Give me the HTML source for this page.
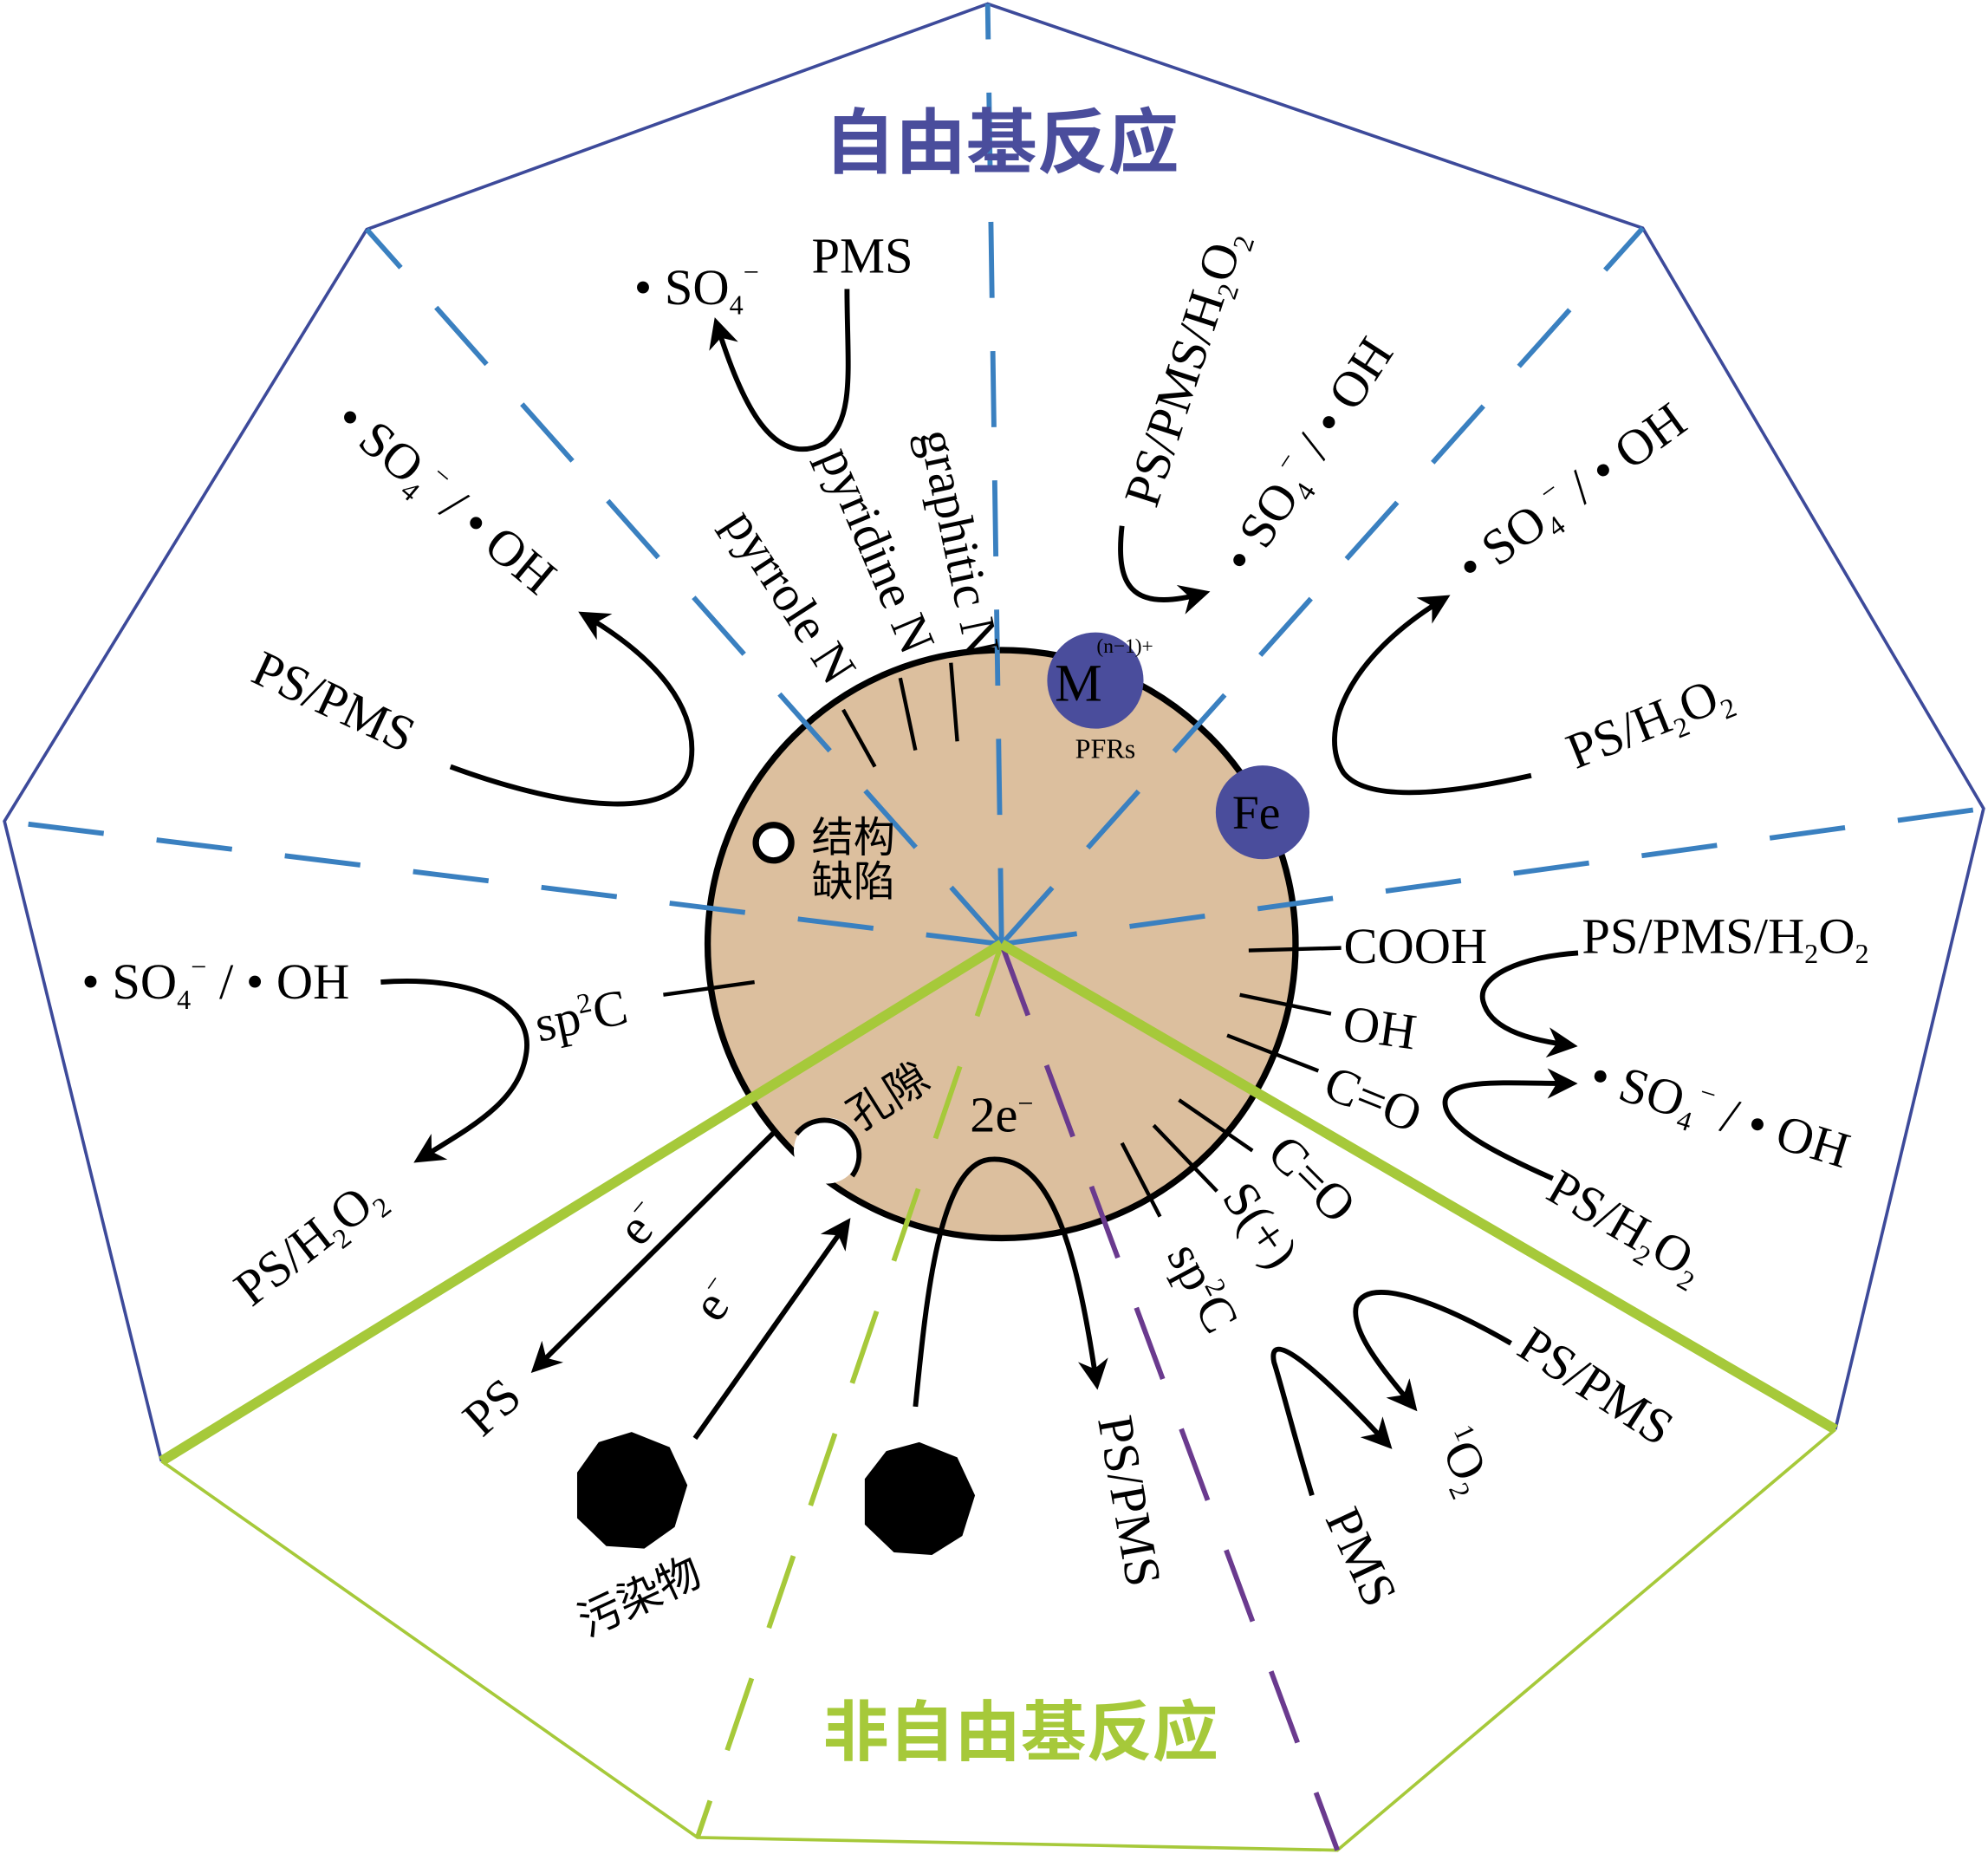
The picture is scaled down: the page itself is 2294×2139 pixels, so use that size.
<!DOCTYPE html>
<html><head><meta charset="utf-8">
<style>
html,body{margin:0;padding:0;background:#fff;}
svg{display:block;}
text{font-family:"Liberation Serif","Noto Serif CJK SC",serif;fill:#000;}
.cjk{font-family:"Liberation Sans","Noto Sans CJK SC",sans-serif;}
</style></head><body>
<svg width="2294" height="2139" viewBox="0 0 1568 1463" xmlns="http://www.w3.org/2000/svg">
<defs>
<marker id="ah" viewBox="0 0 10 10" refX="8" refY="5" markerWidth="6" markerHeight="6" orient="auto" markerUnits="strokeWidth">
<path d="M0,0 L10,5 L0,10 L3,5 z" fill="#000"/></marker>
</defs>
<polyline points="127,1153 3,648 289,181 779,3 1296,180 1565,638 1448,1128" fill="none" stroke="#3d4a9a" stroke-width="2.5"/>
<polyline points="1448,1128 1055,1460 550,1450 127,1153" fill="none" stroke="#a6c93a" stroke-width="2.5"/>

<circle cx="790" cy="745" r="232" fill="#dcbf9e" stroke="#000" stroke-width="5"/>

<g stroke="#3a80c0" stroke-width="4" stroke-dasharray="60,42" fill="none">
<line x1="790" y1="745" x2="779" y2="3"/>
<line x1="790" y1="745" x2="1296" y2="180"/>
<line x1="790" y1="745" x2="1565" y2="638"/>
<line x1="790" y1="745" x2="3" y2="648"/>
<line x1="790" y1="745" x2="289" y2="181"/>
</g>
<line x1="790" y1="745" x2="550" y2="1450" stroke="#a6c93a" stroke-width="4" stroke-dasharray="60,42"/>
<line x1="790" y1="745" x2="1055" y2="1460" stroke="#6a3a8e" stroke-width="4" stroke-dasharray="60,42"/>
<line x1="790" y1="745" x2="127" y2="1153" stroke="#a6c93a" stroke-width="8"/>
<line x1="790" y1="745" x2="1448" y2="1128" stroke="#a6c93a" stroke-width="8"/>

<g stroke="#000" stroke-width="3">
<line x1="665" y1="560" x2="690" y2="605"/>
<line x1="710" y1="535" x2="722" y2="592"/>
<line x1="750" y1="523" x2="755" y2="585"/>
<line x1="985" y1="750" x2="1058" y2="748"/>
<line x1="978" y1="785" x2="1050" y2="800"/>
<line x1="968" y1="817" x2="1040" y2="845"/>
<line x1="930" y1="868" x2="988" y2="908"/>
<line x1="910" y1="888" x2="960" y2="940"/>
<line x1="885" y1="902" x2="915" y2="960"/>
<line x1="523" y1="785" x2="595" y2="775"/>
</g>

<!-- pore notch -->
<circle cx="652" cy="908" r="26" fill="#fff"/>
<path d="M628,895 A26,26 0 1 1 672,928" fill="none" stroke="#000" stroke-width="4"/>
<circle cx="610" cy="665" r="14" fill="#fff" stroke="#000" stroke-width="5"/>

<circle cx="864" cy="537" r="38" fill="#4a4d9c"/>
<circle cx="996" cy="641" r="37" fill="#4a4d9c"/>
<text x="832" y="553" font-size="42">M</text>
<text x="865" y="515" font-size="16">(n−1)+</text>
<text x="972" y="654" font-size="38">Fe</text>
<text x="848" y="598" font-size="22">PFRs</text>

<text x="790" y="132" font-size="56" font-weight="bold" text-anchor="middle" class="cjk" style="fill:#4a4d9c">自由基反应</text>
<text x="805" y="1385" font-size="52" font-weight="bold" text-anchor="middle" class="cjk" style="fill:#a6c93a">非自由基反应</text>

<g fill="none" stroke="#000" stroke-width="4" marker-end="url(#ah)">
<path d="M668,228 C668,290 675,330 650,350 C610,370 585,320 565,255"/>
<path d="M355,605 C450,640 540,650 545,600 C550,560 520,520 460,485"/>
<path d="M300,775 C370,770 420,790 415,830 C410,870 370,890 330,915"/>
<path d="M885,415 C880,460 890,485 950,468"/>
<path d="M1208,612 C1150,625 1080,635 1060,610 C1040,580 1060,520 1140,472"/>
<path d="M1245,752 C1200,755 1165,770 1170,790 C1175,810 1200,820 1240,825"/>
<path d="M1225,930 C1180,910 1140,890 1140,870 C1140,850 1190,855 1240,855"/>
<path d="M1192,1060 C1140,1030 1080,1005 1070,1030 C1065,1050 1090,1080 1115,1110"/>
<path d="M1035,1180 C1020,1130 1010,1090 1005,1075 C1000,1050 1030,1070 1095,1140"/>
<path d="M722,1110 C730,1030 740,920 780,915 C830,910 850,990 865,1092"/>
<path d="M612,892 L422,1080"/>
<path d="M548,1135 L668,965"/>
</g>

<polygon points="498,1130 528,1142 542,1172 532,1205 508,1222 478,1220 455,1198 455,1162 472,1138" fill="#000"/>
<polygon points="725,1138 755,1150 769,1180 759,1212 735,1227 705,1225 682,1203 682,1167 699,1145" fill="#000"/>

<g font-size="40">
<text x="500" y="240">• SO<tspan font-size="22" dy="8">4</tspan><tspan font-size="22" dy="-26">−</tspan></text>
<text x="640" y="215">PMS</text>
<text x="64" y="788">• SO<tspan font-size="22" dy="8">4</tspan><tspan font-size="22" dy="-26">−</tspan><tspan dy="18"> / • OH</tspan></text>
<text x="425" y="822" transform="rotate(-12 425 822)">sp<tspan font-size="22" dy="-15">2</tspan><tspan dy="15">C</tspan></text>
<text x="1060" y="760">COOH</text>
<text x="1058" y="820" transform="rotate(8 1058 820)">OH</text>
<text x="1042" y="865" transform="rotate(22 1042 865)">C=O</text>
<text x="1248" y="752">PS/PMS/H<tspan font-size="22" dy="8">2</tspan><tspan dy="-8">O</tspan><tspan font-size="22" dy="8">2</tspan></text>
<text x="1252" y="860" transform="rotate(17 1252 860)">• SO<tspan font-size="22" dy="8">4</tspan><tspan font-size="22" dy="-26">−</tspan><tspan dy="18">   / • OH</tspan></text>
<text x="1218" y="945" transform="rotate(30 1218 945)">PS/H<tspan font-size="22" dy="8">2</tspan><tspan dy="-8">O</tspan><tspan font-size="22" dy="8">2</tspan></text>
<text x="1195" y="1068" transform="rotate(33 1195 1068)">PS/PMS</text>
<text x="1133" y="1135" transform="rotate(65 1133 1135)"><tspan font-size="22" dy="-15">1</tspan><tspan dy="15">O</tspan><tspan font-size="22" dy="8">2</tspan></text>
<text x="1045" y="1198" transform="rotate(65 1045 1198)">PMS</text>
<text x="866" y="1120" transform="rotate(80 866 1120)">PS/PMS</text>
<text x="920" y="990" transform="rotate(62 920 990)">sp<tspan font-size="22" dy="-15">2</tspan><tspan dy="15">C</tspan></text>
<text x="963" y="945" transform="rotate(55 963 945)">S(+)</text>
<text x="998" y="912" transform="rotate(45 998 912)">C=O</text>
<text x="765" y="893">2e<tspan font-size="22" dy="-15">−</tspan></text>
<text x="678" y="893" class="cjk" font-size="34" transform="rotate(-32 678 893)">孔隙</text>
<text x="463" y="1292" class="cjk" font-size="34" transform="rotate(-25 463 1292)">污染物</text>
<text x="640" y="672" class="cjk" font-size="33">结构</text>
<text x="640" y="707" class="cjk" font-size="33">缺陷</text>
<text x="380" y="1135" transform="rotate(-42 380 1135)">PS</text>
<text x="505" y="985" transform="rotate(-50 505 985)">e<tspan font-size="22" dy="-15">−</tspan></text>
<text x="566" y="1045" transform="rotate(-55 566 1045)">e<tspan font-size="22" dy="-15">−</tspan></text>
<text x="198" y="1032" transform="rotate(-38 198 1032)">PS/H<tspan font-size="22" dy="8">2</tspan><tspan dy="-8">O</tspan><tspan font-size="22" dy="8">2</tspan></text>
<text x="196" y="537" transform="rotate(25 196 537)">PS/PMS</text>
<text x="262" y="335" transform="rotate(40 262 335)">• SO<tspan font-size="22" dy="8">4</tspan><tspan font-size="22" dy="-26">−</tspan><tspan dy="18"> / • OH</tspan></text>
<text x="570" y="413" transform="rotate(57 570 413)">pyrrole N</text>
<text x="646" y="360" transform="rotate(67 646 360)">pyridine N</text>
<text x="725" y="342" transform="rotate(78 725 342)">graphitic N</text>
<text x="912" y="402" transform="rotate(-72 912 402)">PS/PMS/H<tspan font-size="22" dy="8">2</tspan><tspan dy="-8">O</tspan><tspan font-size="22" dy="8">2</tspan></text>
<text x="985" y="455" transform="rotate(-57 985 455)">• SO<tspan font-size="22" dy="8">4</tspan><tspan font-size="22" dy="-26">−</tspan><tspan dy="18"> / • OH</tspan></text>
<text x="1162" y="462" transform="rotate(-36 1162 462)">• SO<tspan font-size="22" dy="8">4</tspan><tspan font-size="22" dy="-26">−</tspan><tspan dy="18">   / • OH</tspan></text>
<text x="1243" y="607" transform="rotate(-22 1243 607)">PS/H<tspan font-size="22" dy="8">2</tspan><tspan dy="-8">O</tspan><tspan font-size="22" dy="8">2</tspan></text>
</g>
</svg>
</body></html>
